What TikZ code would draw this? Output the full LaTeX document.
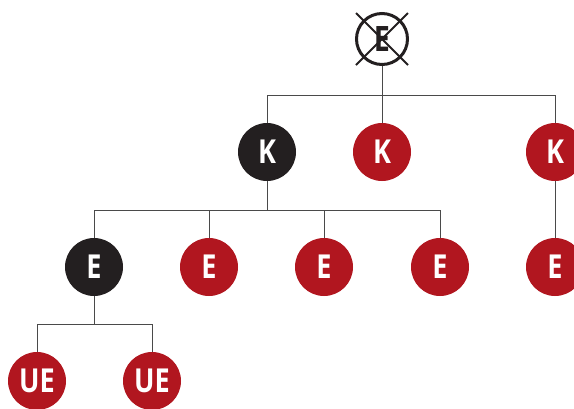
\documentclass[tikz,border=0pt]{standalone}
\usepackage{fontspec}
\usetikzlibrary{calc}
\newfontfamily\lblfont[FakeStretch=0.82]{Open Sans}
\definecolor{nred}{HTML}{B1161F}
\definecolor{nblack}{HTML}{231F20}
\definecolor{wire}{HTML}{4A4A4A}
\begin{document}
\begin{tikzpicture}[x=1pt,y=-1pt,
  base/.style={circle,minimum size=58pt,inner sep=0pt,text=white,font=\lblfont\bfseries\fontsize{33}{33}\selectfont},
  rednode/.style={base,fill=nred},
  blacknode/.style={base,fill=nblack},
  topnode/.style={circle,minimum size=51pt,inner sep=0pt,draw=nblack,line width=3pt,text=nblack,font=\lblfont\bfseries\fontsize{35}{35}\selectfont},
  cross/.style={draw=nblack,line width=1.8pt},
  wire/.style={draw=wire,line width=1pt}]
\useasboundingbox (0,0) rectangle (574,408);
\clip (0,0) rectangle (574,408);
% nodes
\node[topnode] (top) at (382,39) {E};
\coordinate (x1) at ($(top.center)+(-26,-26)$);
\coordinate (x2) at ($(top.center)+(26,26)$);
\coordinate (x3) at ($(top.center)+(26,-26)$);
\coordinate (x4) at ($(top.center)+(-26,26)$);
\draw[cross] (x1) -- (x2);
\draw[cross] (x3) -- (x4);
\node[blacknode] (k1) at (267,152) {K};
\node[rednode] (k2) at (382,152) {K};
\node[rednode] (k3) at (555,152) {K};
\node[blacknode] (e1) at (94,267) {E};
\node[rednode] (e2) at (209,267) {E};
\node[rednode] (e3) at (324,267) {E};
\node[rednode] (e4) at (440,267) {E};
\node[rednode] (e5) at (555,267) {E};
\node[rednode] (u1) at (37,381) {UE};
\node[rednode] (u2) at (152,381) {UE};
% bus points
\coordinate (b1) at (382,95);
\coordinate (b2) at (267,210);
\coordinate (b3) at (94,324);
% connectors
\draw[wire] (top) -- (b1);
\draw[wire] (b1) -| (k1);
\draw[wire] (b1) -- (k2);
\draw[wire] (b1) -| (k3);
\draw[wire] (k1) -- (b2);
\draw[wire] (b2) -| (e1);
\draw[wire] (b2) -| (e2);
\draw[wire] (b2) -| (e3);
\draw[wire] (b2) -| (e4);
\draw[wire] (k3) -- (e5);
\draw[wire] (e1) -- (b3);
\draw[wire] (b3) -| (u1);
\draw[wire] (b3) -| (u2);
\end{tikzpicture}
\end{document}
